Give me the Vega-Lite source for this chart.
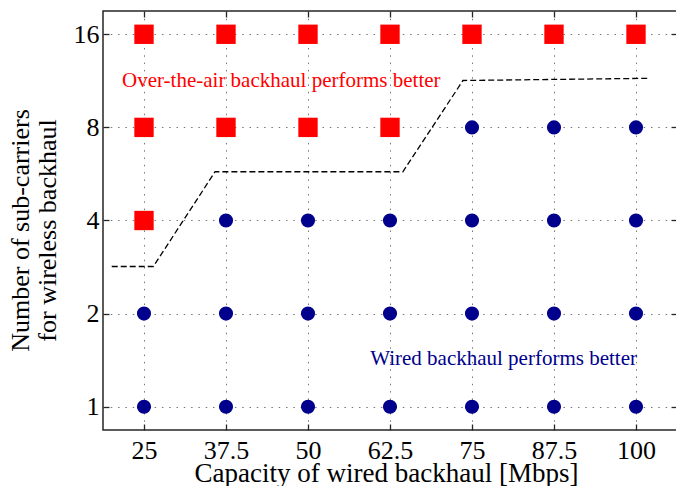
{
  "$schema": "https://vega.github.io/schema/vega-lite/v6.json",
  "width": 574,
  "height": 419,
  "autosize": "none",
  "padding": {"left": 103, "top": 11, "right": 0, "bottom": 56},
  "background": "white",
  "config": {
    "font": "Liberation Serif",
    "view": {"stroke": "#262626", "strokeWidth": 1.5},
    "axis": {
      "domain": false,
      "labelFont": "Liberation Serif",
      "titleFont": "Liberation Serif",
      "labelColor": "black",
      "titleColor": "black",
      "labelFontSize": 26,
      "titleFontSize": 26,
      "titleFontWeight": "normal",
      "tickColor": "#262626",
      "tickSize": -6,
      "tickWidth": 1.3,
      "gridColor": "#555555",
      "gridDash": [1.5, 5.8],
      "gridWidth": 1,
      "gridOpacity": 0.8
    }
  },
  "datasets": {
    "pts": [
      {"cap": 25, "n": 16, "best": "air"},
      {"cap": 37.5, "n": 16, "best": "air"},
      {"cap": 50, "n": 16, "best": "air"},
      {"cap": 62.5, "n": 16, "best": "air"},
      {"cap": 75, "n": 16, "best": "air"},
      {"cap": 87.5, "n": 16, "best": "air"},
      {"cap": 100, "n": 16, "best": "air"},
      {"cap": 25, "n": 8, "best": "air"},
      {"cap": 37.5, "n": 8, "best": "air"},
      {"cap": 50, "n": 8, "best": "air"},
      {"cap": 62.5, "n": 8, "best": "air"},
      {"cap": 75, "n": 8, "best": "wired"},
      {"cap": 87.5, "n": 8, "best": "wired"},
      {"cap": 100, "n": 8, "best": "wired"},
      {"cap": 25, "n": 4, "best": "air"},
      {"cap": 37.5, "n": 4, "best": "wired"},
      {"cap": 50, "n": 4, "best": "wired"},
      {"cap": 62.5, "n": 4, "best": "wired"},
      {"cap": 75, "n": 4, "best": "wired"},
      {"cap": 87.5, "n": 4, "best": "wired"},
      {"cap": 100, "n": 4, "best": "wired"},
      {"cap": 25, "n": 2, "best": "wired"},
      {"cap": 37.5, "n": 2, "best": "wired"},
      {"cap": 50, "n": 2, "best": "wired"},
      {"cap": 62.5, "n": 2, "best": "wired"},
      {"cap": 75, "n": 2, "best": "wired"},
      {"cap": 87.5, "n": 2, "best": "wired"},
      {"cap": 100, "n": 2, "best": "wired"},
      {"cap": 25, "n": 1, "best": "wired"},
      {"cap": 37.5, "n": 1, "best": "wired"},
      {"cap": 50, "n": 1, "best": "wired"},
      {"cap": 62.5, "n": 1, "best": "wired"},
      {"cap": 75, "n": 1, "best": "wired"},
      {"cap": 87.5, "n": 1, "best": "wired"},
      {"cap": 100, "n": 1, "best": "wired"}
    ],
    "boundary": [
      {"cap": 20.08, "n": 2.84},
      {"cap": 26.42, "n": 2.84},
      {"cap": 35.83, "n": 5.75},
      {"cap": 64.46, "n": 5.75},
      {"cap": 73.62, "n": 11.34},
      {"cap": 102.03, "n": 11.53}
    ],
    "notes": [
      {"cap": 21.65, "n": 10.84, "label": "Over-the-air backhaul performs better", "best": "air"},
      {"cap": 59.48, "n": 1.36, "label": "Wired backhaul performs better", "best": "wired"}
    ]
  },
  "layer": [
    {
      "data": {"name": "pts"},
      "transform": [{"filter": "datum.best === 'wired'"}],
      "mark": {"type": "circle", "size": 200, "opacity": 1, "color": "#00008C"},
      "encoding": {
        "x": {
          "field": "cap", "type": "quantitative",
          "scale": {"domain": [18.75, 106.25], "nice": false, "zero": false},
          "axis": {"orient": "bottom", "values": [25, 37.5, 50, 62.5, 75, 87.5, 100], "labelExpr": "'' + datum.value", "grid": true, "labelPadding": 13, "title": "Capacity of wired backhaul [Mbps]", "titleFontSize": 27, "titlePadding": -3, "titleX": 283}
        },
        "y": {
          "field": "n", "type": "quantitative",
          "scale": {"type": "log", "base": 2, "domain": [0.8409, 19.027], "nice": false},
          "axis": {"orient": "left", "values": [1, 2, 4, 8, 16], "labelExpr": "'' + datum.value", "grid": true, "labelPadding": 10, "title": ["Number of sub-carriers", "for wireless backhaul"], "titleLineHeight": 27, "titlePadding": 13, "titleY": 219}
        }
      }
    },
    {
      "data": {"name": "pts"},
      "transform": [{"filter": "datum.best === 'air'"}],
      "mark": {"type": "square", "size": 375, "opacity": 1, "color": "#FF0000"},
      "encoding": {
        "x": {"field": "cap", "type": "quantitative", "scale": {"domain": [18.75, 106.25], "nice": false, "zero": false}, "axis": null},
        "y": {"field": "n", "type": "quantitative", "scale": {"type": "log", "base": 2, "domain": [0.8409, 19.027], "nice": false}, "axis": null}
      }
    },
    {
      "data": {"name": "boundary"},
      "mark": {"type": "line", "color": "black", "strokeWidth": 1.3, "strokeDash": [6, 3]},
      "encoding": {
        "x": {"field": "cap", "type": "quantitative", "scale": {"domain": [18.75, 106.25], "nice": false, "zero": false}, "axis": null},
        "y": {"field": "n", "type": "quantitative", "scale": {"type": "log", "base": 2, "domain": [0.8409, 19.027], "nice": false}, "axis": null}
      }
    },
    {
      "data": {"name": "notes"},
      "mark": {"type": "text", "align": "left", "baseline": "alphabetic", "fontSize": 21, "font": "Liberation Serif"},
      "encoding": {
        "x": {"field": "cap", "type": "quantitative", "scale": {"domain": [18.75, 106.25], "nice": false, "zero": false}, "axis": null},
        "y": {"field": "n", "type": "quantitative", "scale": {"type": "log", "base": 2, "domain": [0.8409, 19.027], "nice": false}, "axis": null},
        "text": {"field": "label"},
        "color": {"field": "best", "type": "nominal", "scale": {"domain": ["air", "wired"], "range": ["#FF0000", "#00008C"]}, "legend": null}
      }
    },
    {
      "data": {"name": "pts"},
      "mark": {"type": "point", "opacity": 0},
      "encoding": {
        "x": {"field": "cap", "type": "quantitative", "scale": {"domain": [18.75, 106.25], "nice": false, "zero": false}, "axis": {"orient": "top", "values": [25, 37.5, 50, 62.5, 75, 87.5, 100], "labels": false, "title": null, "grid": false}},
        "y": {"field": "n", "type": "quantitative", "scale": {"type": "log", "base": 2, "domain": [0.8409, 19.027], "nice": false}, "axis": {"orient": "right", "values": [1, 2, 4, 8, 16], "labels": false, "title": null, "grid": false}}
      }
    }
  ],
  "resolve": {"axis": {"x": "independent", "y": "independent"}}
}
